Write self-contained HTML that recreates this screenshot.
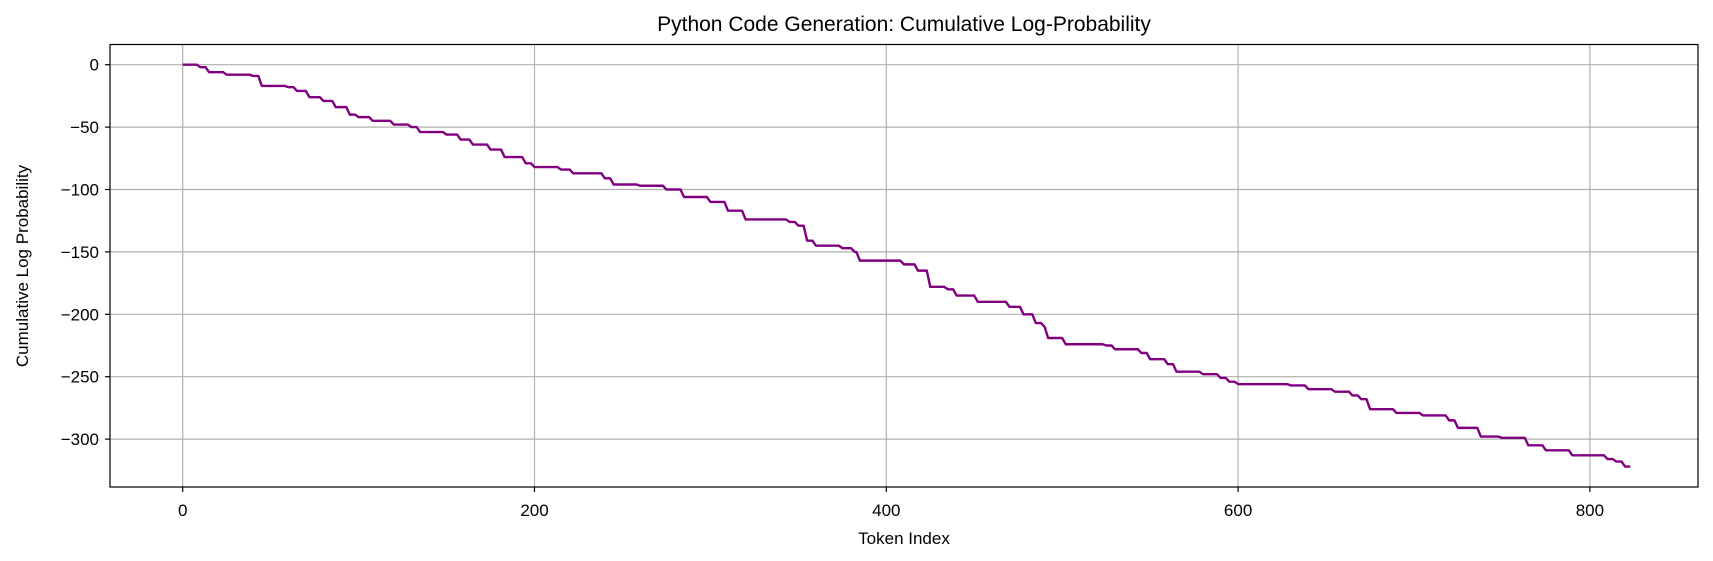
<!DOCTYPE html>
<html><head><meta charset="utf-8"><style>
html,body{margin:0;padding:0;background:#fff}
svg{display:block;font-family:"Liberation Sans","DejaVu Sans",sans-serif}
</style></head><body>
<svg id="chart" width="1713" height="561" viewBox="0 0 1713 561" xmlns="http://www.w3.org/2000/svg">
<text x="904" y="31" text-anchor="middle" font-size="21" fill="#000">Python Code Generation: Cumulative Log-Probability</text>
<g id="grid"></g>
<g id="ticks"></g>
<polyline id="series" fill="none" stroke="#800080" stroke-width="2.4" stroke-linejoin="round"/>
<rect x="110" y="44.5" width="1588" height="442.5" fill="none" stroke="#000" stroke-width="1.2"/>
<text x="904" y="544" text-anchor="middle" font-size="17">Token Index</text>
<text transform="translate(28,266) rotate(-90)" text-anchor="middle" font-size="17">Cumulative Log Probability</text>
</svg>
<script>
const tokenIdx=[0,10,15,25,40,45,60,65,72,80,87,95,100,108,120,130,135,150,158,165,175,183,195,200,215,222,240,245,260,275,285,300,310,320,345,350,355,360,375,382,385,400,410,418,425,435,440,452,470,478,485,490,492,502,525,530,545,550,560,565,580,590,595,600,630,640,655,665,670,675,690,705,720,725,738,750,765,775,790,810,815,820,823];
const logProb=[0,-2,-6,-8,-9,-17,-18,-21,-26,-29,-34,-40,-42,-45,-48,-50,-54,-56,-60,-64,-68,-74,-79,-82,-84,-87,-91,-96,-97,-100,-106,-110,-117,-124,-126,-129,-141,-145,-147,-150,-157,-157,-160,-165,-178,-180,-185,-190,-194,-200,-207,-210,-219,-224,-225,-228,-231,-236,-240,-246,-248,-251,-254,-256,-257,-260,-262,-265,-268,-276,-279,-281,-285,-291,-298,-299,-305,-309,-313,-316,-318,-322,-322];
const xTicks=[0,200,400,600,800];
const yTicks=[0,-50,-100,-150,-200,-250,-300];
const X=v=>182.7+v*1.759;
const Y=v=>64.7-v*1.248;
const NS="http://www.w3.org/2000/svg";
const grid=document.getElementById('grid'),ticks=document.getElementById('ticks');
function mk(tag,attrs,parent){const e=document.createElementNS(NS,tag);for(const k in attrs)e.setAttribute(k,attrs[k]);parent.appendChild(e);return e;}
xTicks.forEach(t=>{
  const g=mk('line',{x1:X(t),x2:X(t),y1:44.5,y2:487,stroke:'#b0b0b0','stroke-width':1.2},grid);
  
  
  mk('line',{x1:X(t),x2:X(t),y1:487,y2:492,stroke:'#000','stroke-width':1.2},ticks);
  const l=mk('text',{x:X(t),y:516,'text-anchor':'middle','font-size':17},ticks);
  l.textContent=t;
  
  
});
yTicks.forEach(t=>{
  const g=mk('line',{x1:110,x2:1698,y1:Y(t),y2:Y(t),stroke:'#b0b0b0','stroke-width':1.2},grid);
  
  
  mk('line',{x1:105,x2:110,y1:Y(t),y2:Y(t),stroke:'#000','stroke-width':1.2},ticks);
  const l=mk('text',{x:99,y:Y(t)+6,'text-anchor':'end','font-size':17},ticks);
  l.textContent=t===0?'0':'\u2212'+Math.abs(t);
  
  
});
let pts=[];
for(let i=0;i<tokenIdx.length;i++){
  if(i>0){pts.push(X(tokenIdx[i]-2)+','+Y(logProb[i-1]));}
  pts.push(X(tokenIdx[i])+','+Y(logProb[i]));
}
document.getElementById('series').setAttribute('points',pts.join(' '));
</script>
</body></html>
